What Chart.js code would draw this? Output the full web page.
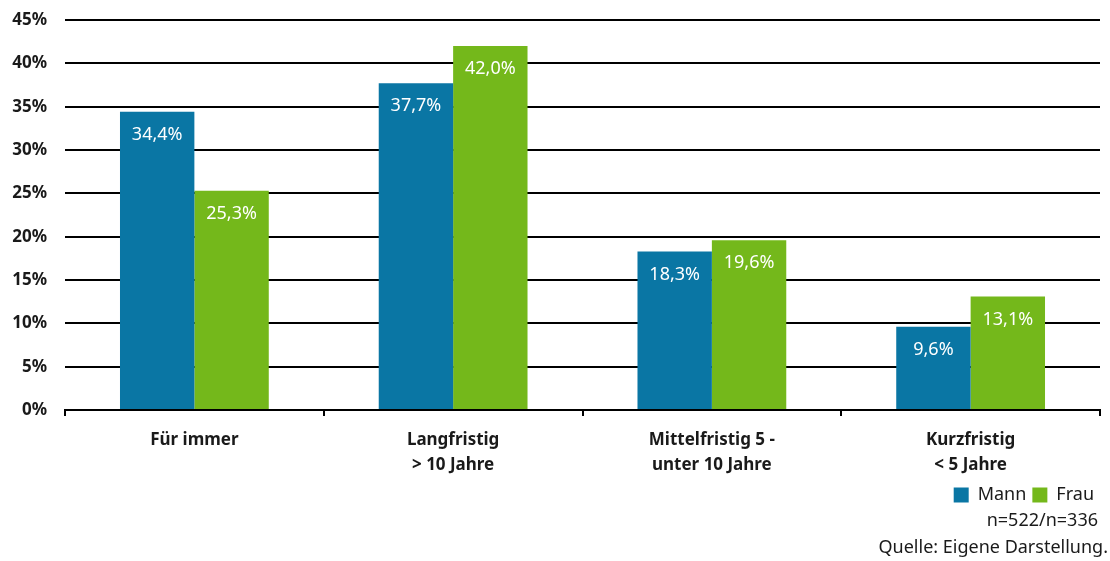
<!DOCTYPE html>
<html>
<head>
<meta charset="utf-8">
<script src="https://cdn.jsdelivr.net/npm/chart.js@4/dist/chart.umd.min.js"></script>
<style>
  html, body { margin: 0; padding: 0; background: #fff; }
  #wrap { width: 1110px; height: 561px; position: relative; }
</style>
</head>
<body>
<div id="wrap"><canvas id="chart"></canvas></div>
<script>
// Daten
const categories = [['Für immer'], ['Langfristig', '> 10 Jahre'], ['Mittelfristig 5 -', 'unter 10 Jahre'], ['Kurzfristig', '< 5 Jahre']];
const mann = [34.4, 37.7, 18.3, 9.6];
const frau = [25.3, 42.0, 19.6, 13.1];
const seriesNames = ['Mann', 'Frau'];
const footNotes = ['n=522/n=336', 'Quelle: Eigene Darstellung.'];

const FONT = "'Noto Sans', sans-serif";

// Werte in die Balken schreiben
const barLabels = {
    id: 'barLabels',
    afterDatasetsDraw(chart) {
        const ctx = chart.ctx;
        ctx.save();
        ctx.fillStyle = '#fff';
        ctx.font = '18px ' + FONT;
        ctx.textAlign = 'center';
        ctx.textBaseline = 'middle';
        chart.data.datasets.forEach((ds, i) => {
            chart.getDatasetMeta(i).data.forEach((bar, j) => {
                ctx.fillText(ds.data[j].toFixed(1).replace('.', ',') + '%', bar.x, bar.y + 23);
            });
        });
        ctx.restore();
    }
};

// Fussnoten unten rechts
const footer = {
    id: 'footer',
    afterDraw(chart) {
        const ctx = chart.ctx;
        ctx.save();
        ctx.fillStyle = '#1a1a1a';
        ctx.font = '18px ' + FONT;
        ctx.textAlign = 'right';
        ctx.textBaseline = 'middle';
        ctx.fillText(footNotes[0], 1098, 521);
        ctx.fillText(footNotes[1], 1108, 548);
        ctx.restore();
    }
};

new Chart(document.getElementById('chart'), {
    type: 'bar',
    data: {
        labels: categories,
        datasets: [
            { label: seriesNames[0], data: mann, backgroundColor: '#0a76a4', categoryPercentage: 0.575, barPercentage: 1 },
            { label: seriesNames[1], data: frau, backgroundColor: '#74b81b', categoryPercentage: 0.575, barPercentage: 1 }
        ]
    },
    options: {
        responsive: true,
        maintainAspectRatio: false,
        animation: false,
        layout: { padding: { top: 20, right: 10, bottom: 47, left: 6 } },
        plugins: {
            legend: {
                position: 'bottom',
                align: 'end',
                labels: { boxWidth: 15, boxHeight: 15, padding: 6, color: '#1a1a1a', font: { family: FONT, size: 18 } }
            },
            tooltip: { enabled: false }
        },
        scales: {
            x: {
                afterFit(scale) { scale.height = 70; },
                grid: { display: true, drawOnChartArea: false, drawTicks: true, tickLength: 6, color: '#000', lineWidth: 2 },
                border: { display: true, color: '#000', width: 2 },
                ticks: { color: '#1a1a1a', font: { family: FONT, size: 17, weight: 'bold', lineHeight: 1.47 }, padding: 12, maxRotation: 0 }
            },
            y: {
                min: 0, max: 45,
                afterFit(scale) { scale.width = 59; scale.paddingTop = 10; scale.paddingBottom = 10; },
                grid: { color: '#000', lineWidth: 2, drawTicks: false },
                border: { display: false },
                ticks: { stepSize: 5, padding: 18, color: '#1a1a1a', font: { family: FONT, size: 17, weight: 'bold' }, callback: v => v + '%' }
            }
        }
    },
    plugins: [barLabels, footer]
});
</script>
</body>
</html>
